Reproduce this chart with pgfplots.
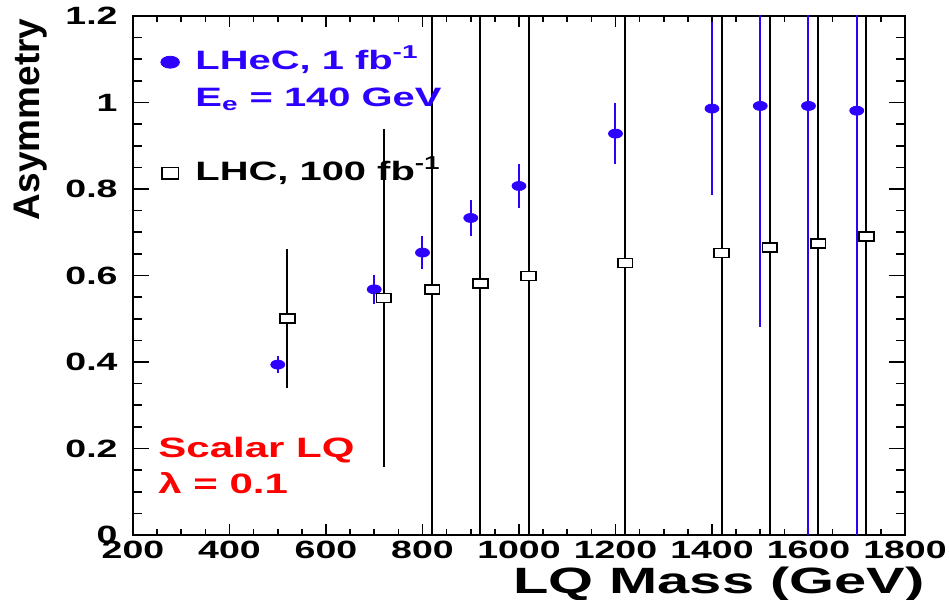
\documentclass[border=0pt]{standalone}
\usepackage{fontspec}
\setmainfont{Liberation Sans}
\newfontfamily\wide{Liberation Sans}[FakeStretch=1.5]
\newfontfamily\wider{Liberation Sans}[FakeStretch=1.58]
\usepackage{pgfplots}
\pgfplotsset{compat=1.18}
\definecolor{lhecblue}{RGB}{45,0,255}
\definecolor{lqred}{RGB}{255,0,0}

\begin{document}
\begin{tikzpicture}
\begin{axis}[
  scale only axis, width=386pt, height=259.5pt,
  xmin=200, xmax=1800, ymin=0, ymax=1.2,
  xtick distance=200, ytick distance=0.2,
  minor x tick num=3, minor y tick num=3,
  tick align=inside,
  axis line style={line width=0.9pt},
  tick style={line width=0.8pt, black},
  xtick style={/pgfplots/major tick length=5.3pt, /pgfplots/minor tick length=2.8pt},
  ytick style={/pgfplots/major tick length=7.8pt, /pgfplots/minor tick length=4.5pt},
  tick label style={font=\wide\bfseries\fontsize{12.5}{12.5}\selectfont},
  /pgf/number format/assume math mode=true,
  /pgf/number format/1000 sep={},
  scaled ticks=false,
  xticklabel style={inner sep=0pt, yshift=-3pt},
  yticklabel style={inner sep=0pt, xshift=-7.5pt},
  xlabel={LQ Mass (GeV)},
  xlabel style={at={(axis description cs:1.0259,-0.1137)}, anchor=base east, inner sep=0pt,
    font=\wider\bfseries\fontsize{18.3}{18.3}\selectfont},
  ylabel={Asymmetry},
  ylabel style={at={(axis description cs:-0.1205,0.996)}, anchor=base east, inner sep=0pt,
    font=\bfseries\fontsize{18.5}{18.5}\selectfont},
  legend style={at={(axis description cs:0.026,0.936)}, anchor=north west, draw=none, fill=none,
    inner sep=0pt, outer sep=0pt, font=\wide\bfseries\fontsize{13.3}{13.3}\selectfont,
    row sep=5.5pt, column sep=8pt, nodes={inner sep=0pt, text height=10pt, text depth=3pt}},
  legend cell align=left,
]
\addplot[only marks, mark=*, lhecblue, mark size=2.25pt, mark options={xscale=1.55},
  legend image post style={mark size=3pt},
  error bars/.cd, y dir=both, y explicit, error mark=none,
  error bar style={line width=1pt, lhecblue}]
  table[x=m, y=a, y error=e] {
m    a     e
500  0.394 0.02
700  0.568 0.033
800  0.653 0.038
900  0.733 0.042
1000 0.807 0.05
1200 0.928 0.07
1400 0.986 0.2
1500 0.992 0.51
1600 0.992 1.5
1700 0.981 1.5
};
\addlegendentry{\textcolor{lhecblue}{LHeC, 1 fb\textsuperscript{-1}}}
\addlegendimage{empty legend}
\addlegendentry{\textcolor{lhecblue}{E\textsubscript{e} = 140 GeV}}
\addlegendimage{empty legend}
\addlegendentry{}
\addplot[only marks, mark=square*, black, mark size=2.25pt,
  mark options={xscale=1.65, fill=white, draw=black, line width=0.9pt},
  legend image post style={mark size=2.9pt, mark options={xscale=1.45, fill=white, draw=black, line width=0.9pt}},
  error bars/.cd, y dir=both, y explicit, error mark=none,
  error bar style={line width=1pt, black}]
  table[x=m, y=a, y error=e] {
m    a     e
520  0.501 0.16
720  0.548 0.39
820  0.567 2
920  0.582 2
1020 0.599 2
1220 0.629 2
1420 0.652 2
1520 0.664 2
1620 0.674 2
1720 0.690 2
};
\addlegendentry{LHC, 100 fb\textsuperscript{-1}}
\node[anchor=base west, inner sep=0pt, text=lqred, font=\wide\bfseries\fontsize{14}{14}\selectfont]
  at (axis description cs:0.0324,0.1484) {Scalar LQ};
\node[anchor=base west, inner sep=0pt, text=lqred, font=\wide\bfseries\fontsize{14}{14}\selectfont]
  at (axis description cs:0.0324,0.0809) {λ = 0.1};
\end{axis}
\pgfresetboundingbox
\path (current axis.south west) ++(-66.5pt,-32.5pt) rectangle ([xshift=22pt,yshift=8pt]current axis.north east);
\end{tikzpicture}
\end{document}
